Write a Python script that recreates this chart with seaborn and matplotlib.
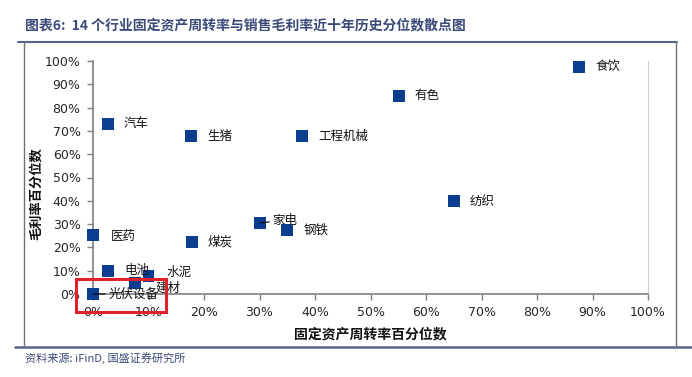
import matplotlib
matplotlib.use("Agg")
import matplotlib.pyplot as plt
import pandas as pd
import seaborn as sns
from matplotlib.lines import Line2D
from matplotlib.patches import Rectangle

industries = ["食饮", "有色", "汽车", "生猪", "工程机械", "纺织", "家电",
              "钢铁", "医药", "煤炭", "电池", "水泥", "建材", "光伏设备"]
asset_turnover_pct = [0.876, 0.551, 0.027, 0.177, 0.377, 0.650, 0.301,
                      0.350, 0.0, 0.178, 0.027, 0.100, 0.076, 0.0]
gross_margin_pct = [0.975, 0.850, 0.730, 0.678, 0.678, 0.399, 0.305,
                    0.275, 0.253, 0.223, 0.099, 0.077, 0.047, 0.0]
tick_vals = [i / 10 for i in range(11)]
tick_labels = [f"{i * 10}%" for i in range(11)]

# label offsets in points (text left edge relative to the marker centre)
label_offsets = {"建材": (15, -4), "光伏设备": (11, 0), "家电": (9, 2),
                 "医药": (13, -1), "水泥": (13, 2.5)}
leader_lines = {"家电", "光伏设备"}

df = pd.DataFrame({"行业": industries, "x": asset_turnover_pct,
                   "y": gross_margin_pct})

sns.set_theme(style="white")
plt.rcParams["font.family"] = ["Noto Sans CJK SC", "DejaVu Sans"]

fig = plt.figure(figsize=(6.92, 3.77), dpi=100)
ax = fig.add_axes([93 / 692, 1 - 294 / 377, 555 / 692, 233 / 377])

sns.scatterplot(data=df, x="x", y="y", marker="s", s=72, color="#0b3d91",
                edgecolor="none", ax=ax, clip_on=False, zorder=3)

for name, x, y in zip(industries, asset_turnover_pct, gross_margin_pct):
    off = label_offsets.get(name, (11.5, 0))
    arrow = dict(arrowstyle="-", color="black", lw=0.8,
                 shrinkA=0, shrinkB=0) if name in leader_lines else None
    ax.annotate(name, (x, y), xytext=off, textcoords="offset points",
                ha="left", va="center", fontsize=9, color="#111111",
                arrowprops=arrow, zorder=4, annotation_clip=False)

ax.set_xlim(0, 1)
ax.set_ylim(0, 1)
ax.set_xticks(tick_vals)
ax.set_xticklabels(tick_labels, family="DejaVu Sans", fontsize=9)
ax.set_yticks(tick_vals)
ax.set_yticklabels(tick_labels, family="DejaVu Sans", fontsize=9)
ax.tick_params(axis="both", direction="out", length=4, width=1,
               color="#808080", pad=5, left=True, bottom=True)
for side in ["left", "bottom"]:
    ax.spines[side].set_color("#808080")
    ax.spines[side].set_linewidth(1.2)
ax.spines["top"].set_visible(False)
ax.spines["right"].set_color("#d0d0d0")
ax.spines["right"].set_linewidth(0.8)

ax.set_xlabel("固定资产周转率百分位数", fontsize=10, fontweight="bold",
              color="#111111")
ax.set_ylabel("毛利率百分位数", fontsize=9.5, fontweight="bold",
              color="#111111")
ax.xaxis.set_label_coords(0.5, -0.145)
ax.yaxis.set_label_coords(-0.09, 0.43)

# highlight box around 光伏设备
fig.patches.append(Rectangle((76 / 692, 1 - 312 / 377), 90 / 692, 33 / 377,
                             transform=fig.transFigure, fill=False,
                             edgecolor="#e0202a", lw=2.2, zorder=10))

# outer frame, title and source
frame_col = "#56648c"
fig.add_artist(Line2D([18 / 692, 677 / 692], [1 - 42 / 377] * 2,
                      color=frame_col, lw=1.5))
fig.add_artist(Line2D([15 / 692, 1.0], [1 - 347 / 377] * 2,
                      color=frame_col, lw=1.8))
fig.add_artist(Line2D([24 / 692] * 2, [1 - 42 / 377, 1 - 347 / 377],
                      color="#707070", lw=1))
fig.add_artist(Line2D([676 / 692] * 2, [1 - 42 / 377, 1 - 347 / 377],
                      color="#707070", lw=1))

fig.text(25 / 692, 1 - 25 / 377,
         "图表6:  14 个行业固定资产周转率与销售毛利率近十年历史分位数散点图",
         fontsize=10, fontweight="bold", color="#3c4a7a", va="center",
         ha="left")
fig.text(25 / 692, 1 - 358 / 377, "资料来源: iFinD, 国盛证券研究所",
         fontsize=8, color="#3c4a7a", va="center", ha="left")

fig.savefig("out.png", dpi=100)
